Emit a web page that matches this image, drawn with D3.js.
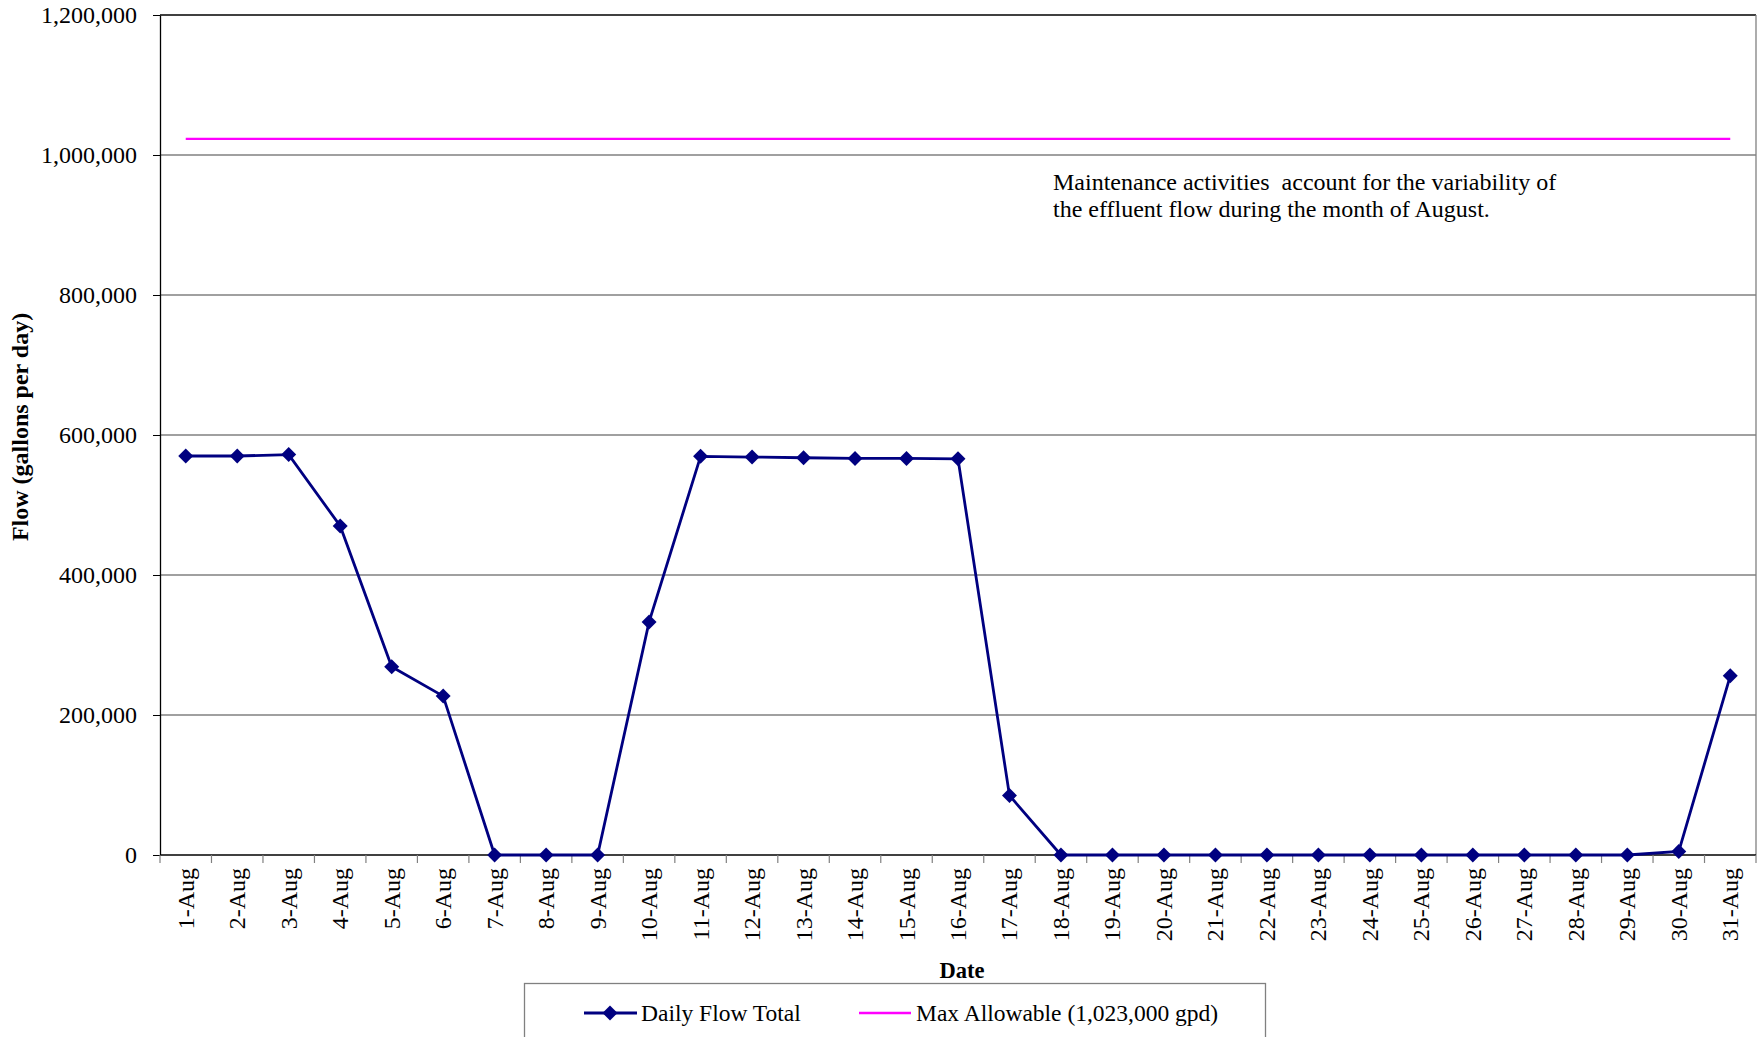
<!DOCTYPE html>
<html>
<head>
<meta charset="utf-8">
<script src="https://cdn.jsdelivr.net/npm/d3@7"></script>
<style>
  body { margin: 0; background: #fff; }
  text { font-family: "Liberation Serif", "Times New Roman", serif; fill: #000; }
</style>
</head>
<body>
<div id="chart"></div>
<script>
// chart data
const days = d3.range(1, 32).map(d => `${d}-Aug`);
const dailyFlow = [
  570000, 570000, 572000, 470000, 269000, 227000, 0, 0, 0, 333000,
  569500, 568500, 567500, 566500, 566500, 566000, 85000, 0, 0, 0,
  0, 0, 0, 0, 0, 0, 0, 0, 0, 5000, 256000
];
const maxAllowable = 1023000;
const yTicks = [0, 200000, 400000, 600000, 800000, 1000000, 1200000];
const seriesNames = ['Daily Flow Total', 'Max Allowable (1,023,000 gpd)'];
const note = [
  'Maintenance activities  account for the variability of',
  'the effluent flow during the month of August.'
];

const W = 1760, H = 1037;
const margin = { top: 15, right: 4, bottom: 182, left: 160 };
const innerW = W - margin.left - margin.right;
const innerH = H - margin.top - margin.bottom;

const svg = d3.select('#chart').append('svg')
  .attr('width', W)
  .attr('height', H);

const g = svg.append('g')
  .attr('transform', `translate(${margin.left},${margin.top})`);

const x = d3.scaleBand().domain(days).range([0, innerW]);
const y = d3.scaleLinear().domain([0, 1200000]).range([innerH, 0]);
const fmt = d3.format(',');

// gridlines
g.append('g')
  .selectAll('line')
  .data(yTicks.slice(1, -1))
  .join('line')
    .attr('x1', 0).attr('x2', innerW)
    .attr('y1', d => y(d)).attr('y2', d => y(d))
    .attr('stroke', '#808080')
    .attr('stroke-width', 1.3);

// plot frame: black top, gray right
g.append('line')
  .attr('x1', 0).attr('x2', innerW)
  .attr('y1', y(1200000)).attr('y2', y(1200000))
  .attr('stroke', '#000').attr('stroke-width', 1.3);
g.append('line')
  .attr('x1', innerW).attr('x2', innerW)
  .attr('y1', 0).attr('y2', innerH)
  .attr('stroke', '#808080').attr('stroke-width', 1.3);

// y axis
const yAxis = g.append('g')
  .call(d3.axisLeft(y).tickValues(yTicks).tickFormat(fmt).tickSizeInner(7).tickSizeOuter(0).tickPadding(16));
yAxis.select('.domain').attr('stroke', '#000').attr('stroke-width', 1.3);
yAxis.selectAll('.tick line').attr('stroke', '#000');
yAxis.selectAll('text')
  .style('font-family', '"Liberation Serif", serif')
  .style('font-size', '24px');

// x axis, ticks on band edges
const xAxis = g.append('g')
  .attr('transform', `translate(0,${innerH})`);
xAxis.append('line')
  .attr('x1', 0).attr('x2', innerW)
  .attr('stroke', '#000').attr('stroke-width', 1.3);
xAxis.selectAll('.edge')
  .data(days.concat(['end']))
  .join('line')
    .attr('class', 'edge')
    .attr('x1', (d, i) => i * x.step()).attr('x2', (d, i) => i * x.step())
    .attr('y1', 0).attr('y2', 8)
    .attr('stroke', '#808080').attr('stroke-width', 1.2);
xAxis.selectAll('.lbl')
  .data(days)
  .join('text')
    .attr('class', 'lbl')
    .attr('transform', d => `translate(${x(d) + x.bandwidth() / 2 + 8},${13}) rotate(-90)`)
    .attr('text-anchor', 'end')
    .style('font-size', '24px')
    .text(d => d);

// axis titles
svg.append('text')
  .attr('transform', `translate(28,${427}) rotate(-90)`)
  .attr('text-anchor', 'middle')
  .style('font-size', '24px')
  .style('font-weight', 'bold')
  .text('Flow (gallons per day)');

svg.append('text')
  .attr('x', 962).attr('y', 978)
  .attr('text-anchor', 'middle')
  .style('font-size', '22.5px')
  .style('font-weight', 'bold')
  .text('Date');

// max allowable line
const cx = d => x(d) + x.bandwidth() / 2;
g.append('line')
  .attr('x1', cx(days[0])).attr('x2', cx(days[days.length - 1]))
  .attr('y1', y(maxAllowable)).attr('y2', y(maxAllowable))
  .attr('stroke', '#FF00FF').attr('stroke-width', 2.4);

// daily flow series
const line = d3.line()
  .x((d, i) => cx(days[i]))
  .y(d => y(d));

g.append('path')
  .datum(dailyFlow)
  .attr('d', line)
  .attr('fill', 'none')
  .attr('stroke', '#000080')
  .attr('stroke-width', 2.8);

const diamond = d3.symbol().type(d3.symbolSquare).size(112);
g.selectAll('.pt')
  .data(dailyFlow)
  .join('path')
    .attr('class', 'pt')
    .attr('d', diamond)
    .attr('transform', (d, i) => `translate(${cx(days[i])},${y(d)}) rotate(45)`)
    .attr('fill', '#000080');

// annotation
svg.append('text')
  .attr('x', 1053).attr('y', 190)
  .style('font-size', '24px')
  .selectAll('tspan')
  .data(note)
  .join('tspan')
    .attr('x', 1053)
    .attr('dy', (d, i) => i === 0 ? 0 : 27)
    .style('white-space', 'pre')
    .text(d => d);

// legend
const legend = svg.append('g');
legend.append('rect')
  .attr('x', 524.5).attr('y', 983.5)
  .attr('width', 741).attr('height', 80)
  .attr('fill', '#fff')
  .attr('stroke', '#808080')
  .attr('stroke-width', 1.3);

const ly = 1013;
legend.append('line')
  .attr('x1', 584).attr('x2', 637).attr('y1', ly).attr('y2', ly)
  .attr('stroke', '#000080').attr('stroke-width', 2.8);
legend.append('path')
  .attr('d', diamond)
  .attr('transform', `translate(610,${ly}) rotate(45)`)
  .attr('fill', '#000080');
legend.append('text')
  .attr('x', 641).attr('y', ly + 8)
  .style('font-size', '23.5px')
  .text(seriesNames[0]);

legend.append('line')
  .attr('x1', 859).attr('x2', 911).attr('y1', ly).attr('y2', ly)
  .attr('stroke', '#FF00FF').attr('stroke-width', 2.4);
legend.append('text')
  .attr('x', 916).attr('y', ly + 8)
  .style('font-size', '23.5px')
  .text(seriesNames[1]);
</script>
</body>
</html>
